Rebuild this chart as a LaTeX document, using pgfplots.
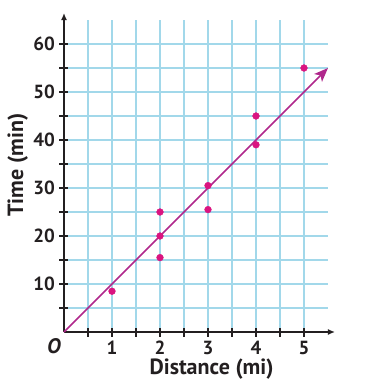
\documentclass[border=0pt]{standalone}
\usepackage{pgfplots}
\pgfplotsset{compat=1.18}
\usetikzlibrary{arrows.meta}
\usepackage{fontspec}
\setmainfont{PT Sans}
\definecolor{gridblue}{RGB}{162,216,234}
\definecolor{dotmag}{RGB}{218,20,128}
\definecolor{linepur}{RGB}{176,40,140}
\definecolor{axisblk}{RGB}{35,31,32}
\begin{document}
\begin{tikzpicture}
\useasboundingbox (0,0) rectangle (373pt,-389pt);
\begin{axis}[
  at={(64pt,-332pt)}, anchor=origin,
  x=48pt, y=4.8pt,
  xmin=0, xmax=5.5, ymin=0, ymax=65,
  axis lines=left,
  clip=false,
  axis line style={axisblk, line width=1.4pt, -{Latex[length=7pt,width=6pt]}},
  x axis line style={shorten >=-7pt},
  y axis line style={shorten >=-7pt},
  xtick={0.5,1,...,5},
  xticklabels={,1,,2,,3,,4,,5},
  ytick={5,10,...,60},
  yticklabels={,10,,20,,30,,40,,50,,60},
  xmajorgrids, ymajorgrids,
  grid style={gridblue, line width=1.4pt},
  major grid style={gridblue, line width=1.4pt},
  major tick style={axisblk, line width=1.1pt},
  major tick length=9pt,
  tick align=center,
  ticklabel style={font=\fontsize{19}{21}\selectfont\bfseries, text=axisblk},
  /pgf/number format/assume math mode=true,
  xticklabel style={yshift=-1pt},
  yticklabel style={xshift=-1pt},
  xlabel={Distance (mi)},
  ylabel={Time (min)},
  label style={font=\fontsize{22}{24}\selectfont\bfseries, text=axisblk},
  xlabel style={at={(axis description cs:0.559,-0.12)}, anchor=center},
  ylabel style={at={(axis description cs:-0.175,0.535)}, anchor=center},
]
\addplot[linepur, line width=1.5pt, -{Stealth[length=14pt,width=11pt,inset=3.5pt]}] coordinates {(0,0) (5.5,55)};
\addplot[only marks, mark=*, mark size=3.4pt, dotmag, mark options={draw=dotmag, fill=dotmag}] coordinates {
(1,8.5) (2,25) (2,20) (2,15.5) (3,30.5) (3,25.5) (4,45) (4,39) (5,55)};
\node[font=\fontsize{21}{23}\selectfont\bfseries\itshape, text=axisblk] at (axis cs:0,0) [xshift=-10pt, yshift=-14pt] {O};
\end{axis}
\end{tikzpicture}
\end{document}
